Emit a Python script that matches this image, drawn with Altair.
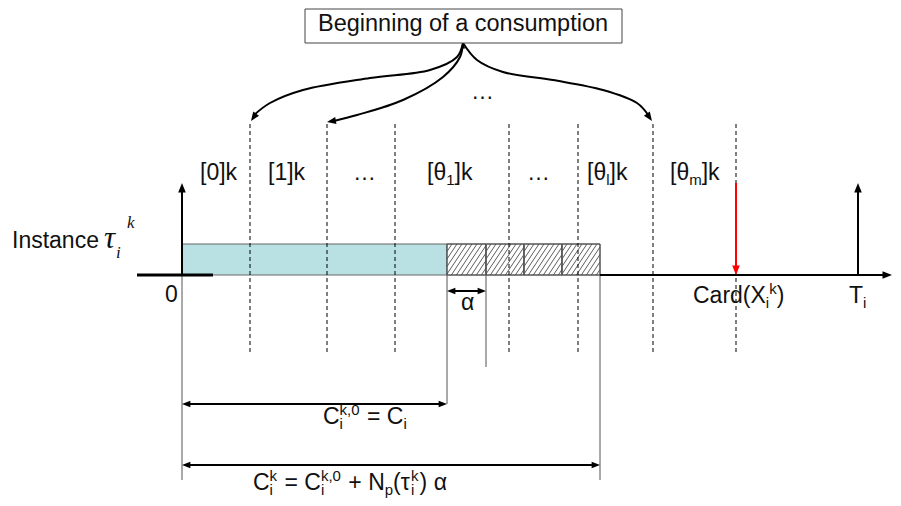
import altair as alt
import pandas as pd
import numpy as np

# ---------------- diagram values (x: time from release of the instance, y: height above the time axis)
slot_bounds = [68, 145, 213, 327, 396, 471, 554]          # dashed consumption-slot boundaries
slot_labels = ["[0]k", "[1]k", "…", "[θ1]k", "…", "[θl]k", "[θm]k"]
slot_label_x = [18, 86, 171, 245, 345, 405, 488]
C_i = 265                                                 # nominal execution time
overhead_ends = [304, 342, 380, 418]                      # ends of the N_p alpha-overhead blocks
bar_h = 31
card_x = 554                                              # Card(X_i^k)
T_i = 676                                                 # period
arrow_top = 92
dash_top, dash_bottom = 152, -77
dim1_y, dim2_y, alpha_y = -129, -190, -16

curve_left = [(281, 232), (275, 218), (248, 205), (188, 197), (121, 185), (88, 172), (72, 160)]
curve_mid = [(281, 232), (278, 218), (261, 198), (221, 175), (175, 160), (152, 154)]
curve_right = [(281, 232), (295, 215), (321, 203), (371, 195), (421, 185), (455, 172), (467, 159)]

title_text = "Beginning of a consumption"

# ---------------- scales (1 unit = 1 px)
W, H = 885, 490
xs = alt.Scale(domain=[-174, 711], nice=False, zero=False)
ys = alt.Scale(domain=[-223, 267], nice=False, zero=False)
X = lambda f: alt.X(f, type="quantitative", scale=xs, axis=None)
Y = lambda f: alt.Y(f, type="quantitative", scale=ys, axis=None)

FONT = "Liberation Sans"
F, S = 23, 15
SP = 278 * F / 1000.0
CW = {' ': 278, '[': 278, ']': 278, '(': 333, ')': 333, '0': 556, '1': 556, 'k': 500,
      'l': 222, 'm': 833, 'i': 222, 'p': 556, 'a': 556, 'C': 722, 'N': 722, 'T': 611, 'X': 667,
      'r': 333, 'd': 556, '=': 584, '+': 584, ',': 278, 'θ': 556, 'τ': 450, 'α': 578, '…': 1000}


def tw(s, size):
    return sum(CW.get(c, 556) for c in s) * size / 1000.0


def layout(x0, y0, runs, rows):
    x = x0
    for r in runs:
        kind = r[0]
        if kind == "g":
            x += r[1]
        elif kind == "n":
            rows.append(dict(x=x, y=y0, t=r[1], s=F)); x += tw(r[1], F)
        elif kind == "sub":
            rows.append(dict(x=x, y=y0 - 5, t=r[1], s=S)); x += tw(r[1], S)
        elif kind == "sup":
            rows.append(dict(x=x, y=y0 + 9, t=r[1], s=S)); x += tw(r[1], S)
        elif kind == "st":
            rows.append(dict(x=x, y=y0 - 5, t=r[1], s=S))
            rows.append(dict(x=x, y=y0 + 9, t=r[2], s=S))
            x += max(tw(r[1], S), tw(r[2], S)) + 1


rows = []
for lab, lx in zip(slot_labels, slot_label_x):
    if lab.startswith("[θ"):
        layout(lx, 95, [("n", "[θ"), ("sub", lab[2]), ("n", "]k")], rows)
    else:
        layout(lx, 95, [("n", lab)], rows)
layout(289, 176, [("n", "…")], rows)
layout(-17, -27, [("n", "0")], rows)
layout(511, -28, [("n", "Card(X"), ("sub", "i"), ("sup", "k"), ("n", ")")], rows)
layout(667, -28, [("n", "T"), ("sub", "i")], rows)
layout(279, -35, [("n", "α")], rows)
layout(141, -149, [("n", "C"), ("st", "i", "k,0"), ("g", SP), ("n", "= C"), ("sub", "i")], rows)
layout(71, -215, [("n", "C"), ("st", "i", "k"), ("g", SP), ("n", "= C"), ("st", "i", "k,0"),
                  ("g", SP), ("n", "+ N"), ("sub", "p"), ("n", "(τ"), ("st", "i", "k"),
                  ("n", ")"), ("g", SP), ("n", "α")], rows)
layout(-170, 27, [("n", "Instance")], rows)
texts = pd.DataFrame(rows)

ital = pd.DataFrame(dict(x=[-78, -66, -55], y=[27, 17, 47], t=["τ", "i", "k"], s=[31, 17, 17]))

# ---------------- rectangles
blue = pd.DataFrame(dict(x=[0], x2=[C_i], y=[0], y2=[bar_h]))
starts = [C_i] + overhead_ends[:-1]
hatch_boxes = pd.DataFrame(dict(x=starts, x2=overhead_ends, y=[0] * 4, y2=[bar_h] * 4))
box = pd.DataFrame(dict(x=[123], x2=[440], y=[232], y2=[266]))

# hatch texture (style only)
hs = []
slope = 1.5
for a, b in zip(starts, overhead_ends):
    c = a - bar_h / slope
    while c < b:
        ylo = max(0.0, (a - c) * slope)
        yhi = min(float(bar_h), (b - c) * slope)
        if yhi > ylo:
            hs.append(dict(x=c + ylo / slope, x2=c + yhi / slope, y=ylo, y2=yhi))
        c += 5.0
hatch = pd.DataFrame(hs)

# ---------------- rules
dashed = pd.DataFrame(dict(x=slot_bounds, y=[dash_bottom] * len(slot_bounds), y2=[dash_top] * len(slot_bounds)))
thin = pd.DataFrame(dict(x=[0, C_i, overhead_ends[0], overhead_ends[-1]],
                         y=[0, 0, 0, 0], y2=[-205, dim1_y, -92, -205]))
segs = pd.DataFrame([
    dict(x=-45, x2=31, y=0, y2=0, w=3),
    dict(x=overhead_ends[-1], x2=704, y=0, y2=0, w=2),
    dict(x=0, x2=0, y=0, y2=arrow_top - 8, w=2),
    dict(x=T_i, x2=T_i, y=0, y2=arrow_top - 8, w=2),
    dict(x=3, x2=C_i - 3, y=dim1_y, y2=dim1_y, w=2),
    dict(x=3, x2=overhead_ends[-1] - 3, y=dim2_y, y2=dim2_y, w=2),
    dict(x=C_i + 3, x2=overhead_ends[0] - 3, y=alpha_y, y2=alpha_y, w=2),
])
red = pd.DataFrame(dict(x=[card_x], x2=[card_x], y=[arrow_top], y2=[8]))

curves = pd.DataFrame(
    [dict(cid=k, o=i, x=p[0], y=p[1]) for k, pts in enumerate([curve_left, curve_mid, curve_right])
     for i, p in enumerate(pts)])

heads = pd.DataFrame([
    dict(x=0, y=arrow_top, a=180, c="black", s=90),
    dict(x=T_i, y=arrow_top, a=180, c="black", s=90),
    dict(x=card_x, y=0, a=0, c="#ff0000", s=90),
    dict(x=710, y=0, a=270, c="black", s=90),
    dict(x=C_i, y=alpha_y, a=90, c="black", s=70),
    dict(x=overhead_ends[0], y=alpha_y, a=270, c="black", s=70),
    dict(x=0, y=dim1_y, a=90, c="black", s=70),
    dict(x=C_i, y=dim1_y, a=270, c="black", s=70),
    dict(x=0, y=dim2_y, a=90, c="black", s=70),
    dict(x=overhead_ends[-1], y=dim2_y, a=270, c="black", s=70),
    dict(x=69, y=154, a=35, c="black", s=80),
    dict(x=145, y=153, a=80, c="black", s=80),
    dict(x=470, y=154, a=325, c="black", s=80),
    dict(x=281, y=232, a=180, c="black", s=30),
])

ARROW = "M0,0L-0.8,-2L0.8,-2Z"

layers = [
    alt.Chart(blue).mark_rect(fill="#b9e0e3", stroke="#666666", strokeWidth=1).encode(
        x=X("x"), x2="x2", y=Y("y"), y2="y2"),
    alt.Chart(hatch_boxes).mark_rect(fill="white", stroke="#555555", strokeWidth=1).encode(
        x=X("x"), x2="x2", y=Y("y"), y2="y2"),
    alt.Chart(hatch).mark_rule(color="#333333", strokeWidth=0.8).encode(
        x=X("x"), x2="x2", y=Y("y"), y2="y2"),
    alt.Chart(hatch_boxes).mark_rect(fill=None, stroke="#555555", strokeWidth=1).encode(
        x=X("x"), x2="x2", y=Y("y"), y2="y2"),
    alt.Chart(dashed).mark_rule(color="black", strokeWidth=1, strokeDash=[4, 3]).encode(
        x=X("x"), y=Y("y"), y2="y2"),
    alt.Chart(thin).mark_rule(color="#555555", strokeWidth=1).encode(
        x=X("x"), y=Y("y"), y2="y2"),
    alt.Chart(segs).mark_rule(color="black").encode(
        x=X("x"), x2="x2", y=Y("y"), y2="y2", strokeWidth=alt.StrokeWidth("w:Q", scale=None)),
    alt.Chart(red).mark_rule(color="#ff0000", strokeWidth=2).encode(
        x=X("x"), x2="x2", y=Y("y"), y2="y2"),
    alt.Chart(curves).mark_line(color="black", strokeWidth=2, interpolate="catmull-rom").encode(
        x=X("x"), y=Y("y"), detail="cid:N", order="o:Q"),
    alt.Chart(heads).mark_point(shape=ARROW, filled=True, opacity=1, strokeWidth=0).encode(
        x=X("x"), y=Y("y"), angle=alt.Angle("a:Q", scale=None),
        color=alt.Color("c:N", scale=None), size=alt.Size("s:Q", scale=None)),
    alt.Chart(box).mark_rect(fill="white", stroke="#444444", strokeWidth=1).encode(
        x=X("x"), x2="x2", y=Y("y"), y2="y2"),
    alt.Chart(pd.DataFrame(dict(x=[281], y=[244], t=[title_text]))).mark_text(
        font=FONT, fontSize=23.5, align="center", baseline="alphabetic", color="#111111").encode(
        x=X("x"), y=Y("y"), text="t:N"),
    alt.Chart(texts).mark_text(font=FONT, align="left", baseline="alphabetic", color="#111111").encode(
        x=X("x"), y=Y("y"), text="t:N", size=alt.Size("s:Q", scale=None)),
    alt.Chart(ital).mark_text(font="Liberation Serif", fontStyle="italic", align="left",
                              baseline="alphabetic", color="#111111").encode(
        x=X("x"), y=Y("y"), text="t:N", size=alt.Size("s:Q", scale=None)),
]

chart = alt.layer(*layers).properties(
    width=W, height=H, padding=0, autosize=alt.AutoSizeParams(type="none"), background="white"
).configure_view(stroke=None)

chart.save("out.html", embed_options={"renderer": "svg", "actions": False})
